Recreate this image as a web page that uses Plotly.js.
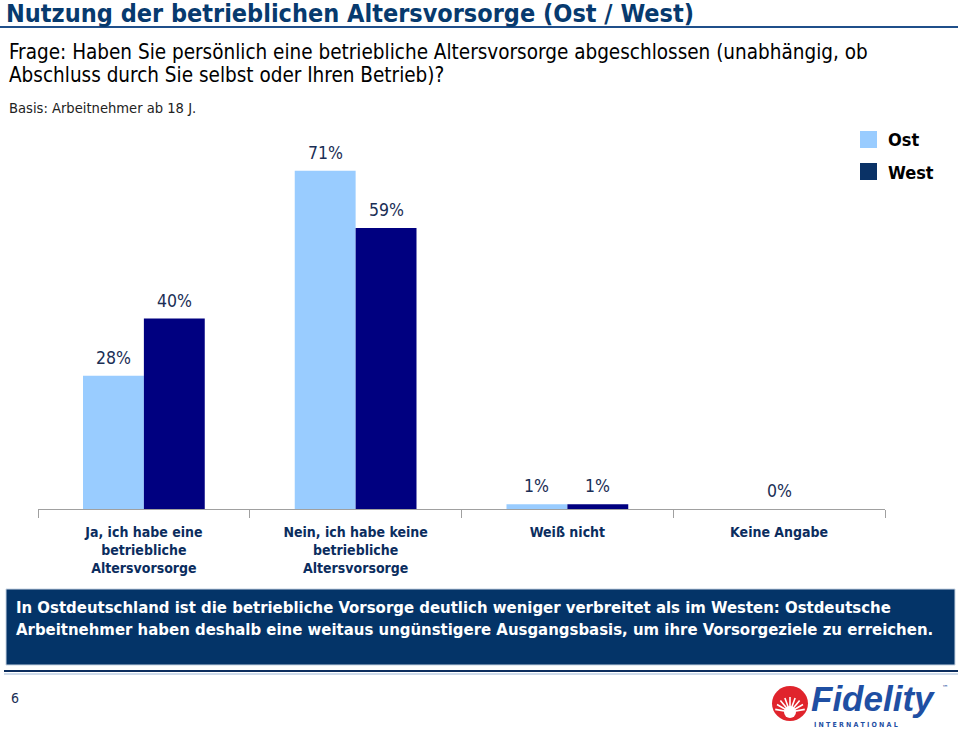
<!DOCTYPE html>
<html><head><meta charset="utf-8">
<script src="https://cdn.plot.ly/plotly-3.0.1.min.js"></script>
<style>html,body{margin:0;padding:0;background:#fff}#chart{width:960px;height:736px}</style>
</head><body><div id="chart"></div>
<script>
const categories = ["Ja, ich habe eine<br>betriebliche<br>Altersvorsorge", "Nein, ich habe keine<br>betriebliche<br>Altersvorsorge", "Weiß nicht", "Keine Angabe"];
const seriesNames = ["Ost", "West"];
const ostValues = [28, 71, 1, 0];
const westValues = [40, 59, 1, 0];

const W = 960, H = 736;
const FONT = "'Liberation Sans Narrow', 'Arial Narrow', 'DejaVu Sans Condensed', Arial, sans-serif";
const OST_C = "#99CCFF", WEST_C = "#000080";
const px = x => x / W;
const py = y => 1 - y / H;

const traces = [
  {type: "bar", name: seriesNames[0], x: categories, y: ostValues, marker: {color: OST_C}, hoverinfo: "none"},
  {type: "bar", name: seriesNames[1], x: categories, y: westValues, marker: {color: WEST_C}, hoverinfo: "none"}
];

const annotations = [];
const shift = 30.5;
const LBL = {family: FONT, size: 17.5, color: "#1a2e55"};
categories.forEach((c, i) => {
  const a = ostValues[i], b = westValues[i];
  if (a === 0 && b === 0) {
    annotations.push({xref: "x", yref: "y", x: c, y: 0, text: "0%", showarrow: false, yanchor: "bottom", yshift: 6, font: LBL});
  } else {
    [[a, -shift], [b, shift]].forEach(([v, xs]) => {
      annotations.push({xref: "x", yref: "y", x: c, y: v, text: v + "%", showarrow: false, yanchor: "bottom", xshift: xs, yshift: 6, font: LBL});
    });
  }
});

annotations.push(
  {xref: "paper", yref: "paper", x: px(7), y: py(52), xanchor: "left", yanchor: "middle", showarrow: false, align: "left",
   text: "Frage: Haben Sie persönlich eine betriebliche Altersvorsorge abgeschlossen (unabhängig, ob", font: {family: FONT, size: 20.5, color: "#000"}},
  {xref: "paper", yref: "paper", x: px(7), y: py(75), xanchor: "left", yanchor: "middle", showarrow: false, align: "left",
   text: "Abschluss durch Sie selbst oder Ihren Betrieb)?", font: {family: FONT, size: 20.5, color: "#000"}},
  {xref: "paper", yref: "paper", x: px(7), y: py(108), xanchor: "left", yanchor: "middle", showarrow: false,
   text: "Basis: Arbeitnehmer ab 18 J.", font: {family: FONT, size: 14.6, color: "#222"}},
  {xref: "paper", yref: "paper", x: px(886), y: py(139), xanchor: "left", yanchor: "middle", showarrow: false,
   text: "<b>" + seriesNames[0] + "</b>", font: {family: FONT, size: 18, color: "#000"}},
  {xref: "paper", yref: "paper", x: px(886), y: py(172), xanchor: "left", yanchor: "middle", showarrow: false,
   text: "<b>" + seriesNames[1] + "</b>", font: {family: FONT, size: 18, color: "#000"}},
  {xref: "paper", yref: "paper", x: px(14), y: py(618), xanchor: "left", yanchor: "middle", showarrow: false, align: "left",
   text: "<b>In Ostdeutschland ist die betriebliche Vorsorge deutlich weniger verbreitet als im Westen: Ostdeutsche<br>Arbeitnehmer haben deshalb eine weitaus ungünstigere Ausgangsbasis, um ihre Vorsorgeziele zu erreichen.</b>",
   font: {family: FONT, size: 16.6, color: "#fff"}},
  {xref: "paper", yref: "paper", x: px(9), y: py(698), xanchor: "left", yanchor: "middle", showarrow: false,
   text: "6", font: {family: FONT, size: 14, color: "#1a2e55"}},
  {xref: "paper", yref: "paper", x: px(809), y: py(698), xanchor: "left", yanchor: "middle", showarrow: false,
   text: "<b><i>Fidelity</i></b>", font: {family: "'Liberation Sans', Arial, sans-serif", size: 35, color: "#1f4fa3"}},
  {xref: "paper", yref: "paper", x: px(940), y: py(688), xanchor: "left", yanchor: "middle", showarrow: false,
   text: "™", font: {family: FONT, size: 7, color: "#1f4fa3"}},
  {xref: "paper", yref: "paper", x: px(812), y: py(725), xanchor: "left", yanchor: "middle", showarrow: false,
   text: "<b>I N T E R N A T I O N A L</b>", font: {family: FONT, size: 7, color: "#1f4fa3"}}
);

const shapes = [
  {type: "line", xref: "paper", yref: "paper", x0: 0, x1: px(958), y0: py(27), y1: py(27), line: {color: "#1f4f8a", width: 2}},
  {type: "rect", xref: "paper", yref: "paper", x0: px(860), x1: px(877), y0: py(131), y1: py(148), fillcolor: OST_C, line: {width: 0}},
  {type: "rect", xref: "paper", yref: "paper", x0: px(860), x1: px(877), y0: py(163), y1: py(180), fillcolor: "#0a3266", line: {width: 0}},
  {type: "rect", xref: "paper", yref: "paper", x0: px(6), x1: px(955), y0: py(589), y1: py(665), fillcolor: "#043468", line: {color: "#c8d4e3", width: 1}},
  {type: "line", xref: "paper", yref: "paper", x0: px(4), x1: px(958), y0: py(671), y1: py(671), line: {color: "#0b2d5e", width: 2}},
  {type: "line", xref: "paper", yref: "paper", x0: px(4), x1: px(958), y0: py(674), y1: py(674), line: {color: "#9fb8d6", width: 1}},
  {type: "circle", xref: "paper", yref: "paper", x0: px(772), x1: px(808), y0: py(686), y1: py(721), fillcolor: "#e0242c", line: {width: 0}}
];
const cx = 790, cy = 712;
[-80, -60, -40, -20, 0, 20, 40, 60, 80].forEach(d => {
  const r = d * Math.PI / 180;
  shapes.push({type: "line", xref: "paper", yref: "paper", x0: px(cx), y0: py(cy), x1: px(cx + 15 * Math.sin(r)), y1: py(cy - 15 * Math.cos(r)), line: {color: "#fff", width: 1.6}});
});
shapes.push({type: "circle", xref: "paper", yref: "paper", x0: px(784), x1: px(796), y0: py(706), y1: py(718), fillcolor: "#fff", line: {width: 0}});

const layout = {
  width: W, height: H,
  margin: {l: 0, r: 0, t: 0, b: 0},
  paper_bgcolor: "#fff", plot_bgcolor: "#fff",
  showlegend: false,
  barmode: "group", bargap: 0.425, bargroupgap: 0,
  title: {text: "<b>Nutzung der betrieblichen Altersvorsorge (Ost / West)</b>", x: px(6), xanchor: "left", xref: "paper",
          y: py(13), yanchor: "middle", yref: "paper", font: {family: FONT, size: 25, color: "#073a6e"}},
  xaxis: {domain: [px(38), px(885)], type: "category", showline: true, linecolor: "#a0a0a0", linewidth: 1,
          ticks: "outside", tickson: "boundaries", ticklen: 8, tickcolor: "#a0a0a0", ticklabelstandoff: 10,
          tickfont: {family: FONT, size: 14, color: "#0b2d5e"}, showgrid: false, zeroline: false, fixedrange: true},
  yaxis: {domain: [py(509), py(128)], range: [0, 80], visible: false, showgrid: false, zeroline: false, fixedrange: true},
  annotations: annotations,
  shapes: shapes
};

layout.xaxis.tickvals = categories;
layout.xaxis.ticktext = categories.map(c => "<b>" + c + "</b>");

Plotly.newPlot("chart", traces, layout, {displayModeBar: false, staticPlot: true});
</script></body></html>
